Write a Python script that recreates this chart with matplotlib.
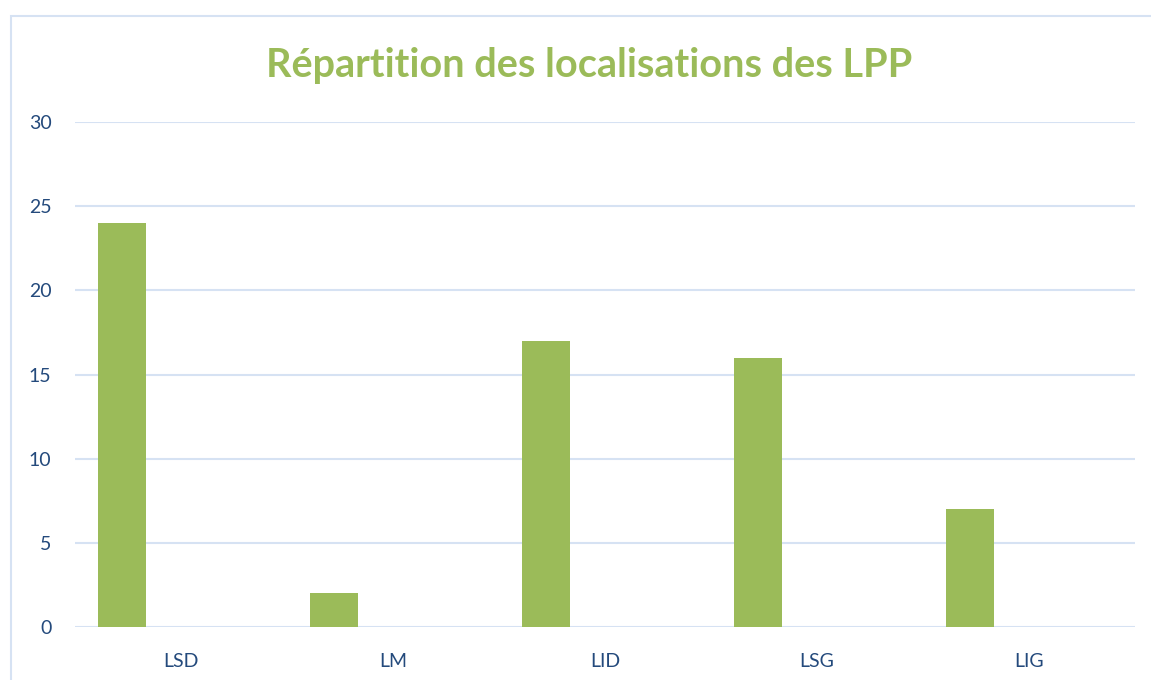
import matplotlib.pyplot as plt
from matplotlib.patches import Rectangle

categories = ['LSD', 'LM', 'LID', 'LSG', 'LIG']
values = [24, 2, 17, 16, 7]
yticks = [0, 5, 10, 15, 20, 25, 30]

green = '#9BBB59'
navy = '#244A7C'
grid_c = '#D6E2F3'

plt.rcParams['font.family'] = ['Lato', 'DejaVu Sans']

fig = plt.figure(figsize=(11.51, 6.8), dpi=100)
ax = fig.add_axes([75/1151, 1-627/680, 1060/1151, 505/680])

# bars sit left of each category centre (second series is empty)
x = list(range(len(categories)))
ax.bar([i - 0.278 for i in x], values, width=0.226, color=green, zorder=3)

ax.set_xlim(-0.5, len(categories) - 0.5)
ax.set_ylim(0, 30)
ax.set_yticks(yticks)
ax.set_xticks(x)
ax.set_xticklabels(categories)
ax.yaxis.grid(True, color=grid_c, linewidth=1.5)
ax.set_axisbelow(True)
for s in ['top', 'right', 'left', 'bottom']:
    ax.spines[s].set_visible(False)
ax.tick_params(axis='both', length=0, labelsize=14, colors=navy)
ax.tick_params(axis='y', pad=17)
ax.tick_params(axis='x', pad=19)

fig.text(589/1151, 1-65/680, 'Répartition des localisations des LPP',
         ha='center', va='center', fontsize=28.5, fontweight='bold', color=green)

# chart frame
fig.patches.append(Rectangle((11/1151, -0.1), 1.2, 1-16/680 + 0.1,
                             transform=fig.transFigure, fill=False,
                             edgecolor=grid_c, linewidth=1.5))

fig.savefig('out.png', dpi=100)
